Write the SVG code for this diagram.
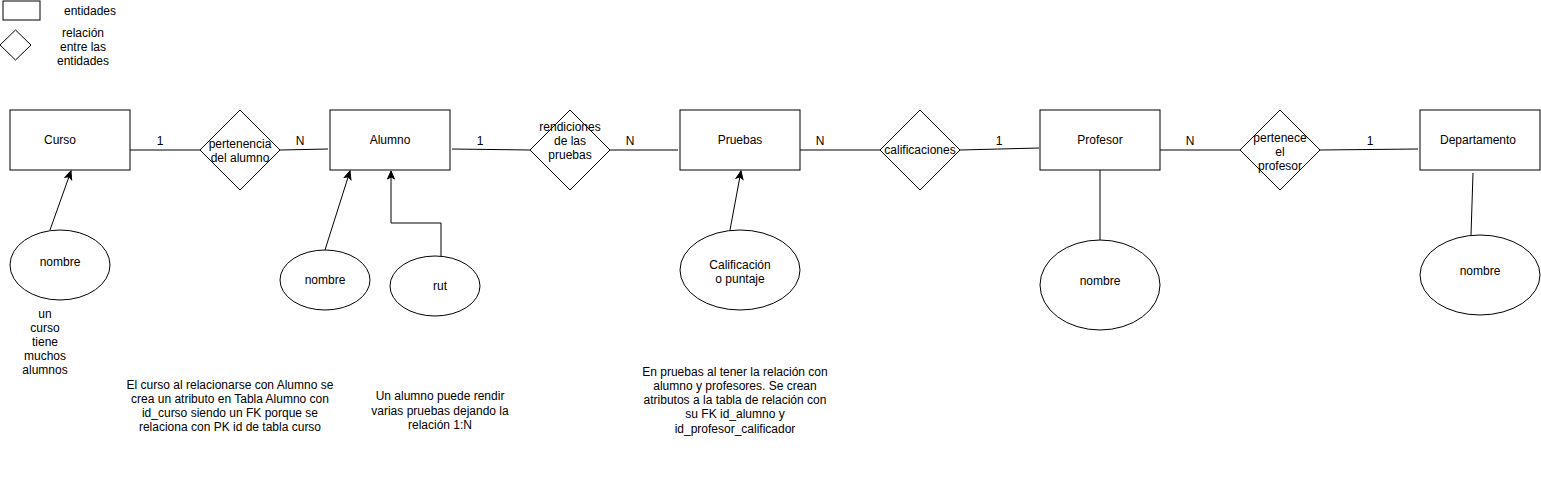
<svg xmlns="http://www.w3.org/2000/svg" width="1541" height="481" viewBox="0 0 1541 481">
<style>
.s{fill:#fff;stroke:#000;stroke-width:1}
.t{font-family:"Liberation Sans",Arial,sans-serif;font-size:12px;fill:#000;text-anchor:middle}
.c{fill:none;stroke:#000;stroke-width:1}
</style>
<defs>
<marker id="ar" markerUnits="userSpaceOnUse" markerWidth="10" markerHeight="10" viewBox="0 0 10 10" refX="9" refY="5" orient="auto">
<path d="M1,1.5 L9,5 L1,8.5 L3,5 Z" fill="#000" stroke="#000" stroke-width="1"/>
</marker>
</defs>
<rect width="1541" height="481" fill="#fff"/>
<g id="legend">
<rect class="s" x="3" y="1" width="37" height="19"/>
<text class="t" x="90" y="15">entidades</text>
<polygon class="s" points="15.5,30 31,45 15.5,60 0,45"/>
<text class="t" x="83" y="37">relación</text>
<text class="t" x="83" y="51">entre las</text>
<text class="t" x="83" y="65">entidades</text>
</g>
<g id="connectors">
<line class="c" x1="130" y1="150" x2="200" y2="150"/>
<line class="c" x1="280" y1="150" x2="328" y2="149"/>
<line class="c" x1="452" y1="149" x2="530" y2="150"/>
<line class="c" x1="610" y1="150" x2="678" y2="150"/>
<line class="c" x1="800" y1="150" x2="880" y2="150"/>
<line class="c" x1="960" y1="150" x2="1039" y2="148"/>
<line class="c" x1="1160" y1="150" x2="1240" y2="150"/>
<line class="c" x1="1320" y1="150" x2="1418" y2="149"/>
<line class="c" x1="50" y1="230" x2="71" y2="171" marker-end="url(#ar)"/>
<line class="c" x1="325" y1="250" x2="350" y2="171" marker-end="url(#ar)"/>
<polyline class="c" points="441,275 441,223 391,223 391,171" marker-end="url(#ar)"/>
<line class="c" x1="730" y1="230" x2="741" y2="171" marker-end="url(#ar)"/>
<line class="c" x1="1100" y1="170" x2="1100" y2="240"/>
<line class="c" x1="1473" y1="173" x2="1471" y2="235"/>
<text class="t" x="160" y="145">1</text>
<text class="t" x="300" y="145">N</text>
<text class="t" x="480" y="145">1</text>
<text class="t" x="630" y="145">N</text>
<text class="t" x="820" y="145">N</text>
<text class="t" x="999" y="145">1</text>
<text class="t" x="1190" y="145">N</text>
<text class="t" x="1370" y="145">1</text>
</g>
<g id="curso">
<rect class="s" x="10" y="110" width="120" height="60"/>
<text class="t" x="60" y="144">Curso</text>
</g>
<g id="pertenencia">
<polygon class="s" points="240,110 280,150 240,190 200,150"/>
<text class="t" x="240" y="148">pertenencia</text>
<text class="t" x="240" y="162">del alumno</text>
</g>
<g id="alumno">
<rect class="s" x="330" y="110" width="120" height="60"/>
<text class="t" x="390" y="144">Alumno</text>
</g>
<g id="rendiciones">
<polygon class="s" points="570,110 610,150 570,190 530,150"/>
<text class="t" x="570" y="131">rendiciones</text>
<text class="t" x="570" y="145">de las</text>
<text class="t" x="570" y="159">pruebas</text>
</g>
<g id="pruebas">
<rect class="s" x="680" y="110" width="120" height="60"/>
<text class="t" x="740" y="144">Pruebas</text>
</g>
<g id="calificaciones">
<polygon class="s" points="920,110 960,150 920,190 880,150"/>
<text class="t" x="920" y="154">calificaciones</text>
</g>
<g id="profesor">
<rect class="s" x="1040" y="110" width="120" height="60"/>
<text class="t" x="1100" y="144">Profesor</text>
</g>
<g id="pertenece">
<polygon class="s" points="1280,110 1320,150 1280,190 1240,150"/>
<text class="t" x="1280" y="142">pertenece</text>
<text class="t" x="1280" y="156">el</text>
<text class="t" x="1280" y="170">profesor</text>
</g>
<g id="departamento">
<rect class="s" x="1420" y="110" width="120" height="60"/>
<text class="t" x="1478" y="144">Departamento</text>
</g>
<g id="curso-nombre">
<ellipse class="s" cx="60" cy="265" rx="50" ry="35"/>
<text class="t" x="60" y="266">nombre</text>
</g>
<g id="alumno-nombre">
<ellipse class="s" cx="325" cy="280" rx="45" ry="30"/>
<text class="t" x="325" y="284">nombre</text>
</g>
<g id="alumno-rut">
<ellipse class="s" cx="435" cy="286" rx="45" ry="30"/>
<text class="t" x="440" y="290">rut</text>
</g>
<g id="pruebas-calificacion">
<ellipse class="s" cx="740" cy="270" rx="60" ry="40"/>
<text class="t" x="740" y="269">Calificación</text>
<text class="t" x="740" y="283">o puntaje</text>
</g>
<g id="profesor-nombre">
<ellipse class="s" cx="1100" cy="285" rx="60" ry="45"/>
<text class="t" x="1100" y="285">nombre</text>
</g>
<g id="departamento-nombre">
<ellipse class="s" cx="1480" cy="275" rx="60" ry="40"/>
<text class="t" x="1480" y="275">nombre</text>
</g>
<g id="notes">
<text class="t" x="45" y="318">un</text>
<text class="t" x="45" y="332">curso</text>
<text class="t" x="45" y="346">tiene</text>
<text class="t" x="45" y="360">muchos</text>
<text class="t" x="45" y="374">alumnos</text>
<text class="t" x="230" y="389">El curso al relacionarse con Alumno se</text>
<text class="t" x="230" y="403">crea un atributo en Tabla Alumno con</text>
<text class="t" x="230" y="417">id_curso siendo un FK porque se</text>
<text class="t" x="230" y="431">relaciona con PK id de tabla curso</text>
<text class="t" x="440" y="400">Un alumno puede rendir</text>
<text class="t" x="440" y="415">varias pruebas dejando la</text>
<text class="t" x="440" y="429">relación 1:N</text>
<text class="t" x="735" y="376">En pruebas al tener la relación con</text>
<text class="t" x="735" y="390">alumno y profesores. Se crean</text>
<text class="t" x="735" y="404">atributos a la tabla de relación con</text>
<text class="t" x="735" y="418">su FK id_alumno y</text>
<text class="t" x="735" y="433">id_profesor_calificador</text>
</g>
</svg>
